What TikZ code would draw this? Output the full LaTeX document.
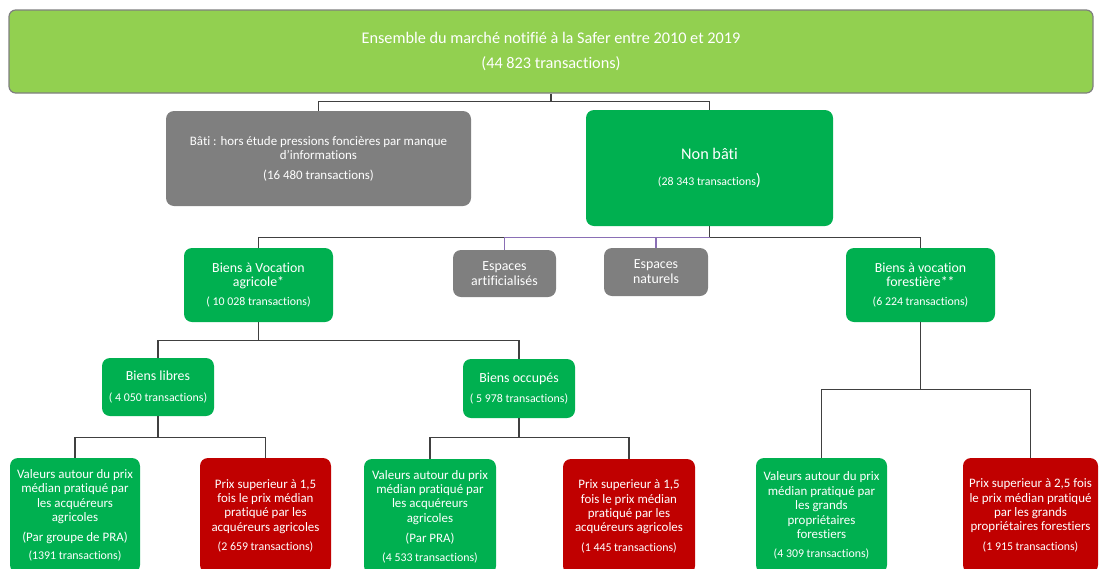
\documentclass[tikz,border=0pt]{standalone}
\usepackage{fontspec}
\setmainfont{Carlito}[Ligatures={NoCommon}]
\usetikzlibrary{calc}
\definecolor{lgreen}{HTML}{92D050}
\definecolor{dgreen}{HTML}{00B050}
\definecolor{bgrey}{HTML}{7F7F7F}
\definecolor{bred}{HTML}{C00000}
\definecolor{conncol}{HTML}{404040}
\definecolor{purp}{HTML}{8A6FB5}
\newcommand\trs{\fontsize{8.9}{10.8}\selectfont}
\newcommand\mains{\fontsize{9.7}{10.8}\selectfont}
\newcommand\heads{\fontsize{10.4}{11.2}\selectfont}
\tikzset{
  sz/.style 2 args={minimum width={#1*0.75pt}, minimum height={#2*0.75pt}},
  box/.style={rounded corners=6pt, text=white, align=center, inner sep=0pt, font=\mains},
  topbox/.style={box, fill=lgreen, draw=bgrey, line width=0.9pt, rounded corners=5pt, font=\fontsize{12.2}{14.6}\selectfont},
  gbox/.style={box, fill=dgreen},
  greybox/.style={box, fill=bgrey},
  rbox/.style={box, fill=bred},
  conn/.style={draw=conncol, line width=1.1pt},
  pconn/.style={draw=purp, line width=1.1pt}
}
\begin{document}
\begin{tikzpicture}[x=0.75pt,y=-0.75pt]
\useasboundingbox (0,0) rectangle (1100,568);
\clip (0,0) rectangle (1100,568);

\node[topbox, sz={1084}{83}] (top) at (551,51.5)
  {Ensemble du marché notifié à la Safer entre 2010 et 2019\\[4.1pt](44 823 transactions)};

\node[greybox, sz={305}{95}] (bati) at (318.5,158.5)
  {Bâti : hors étude pressions foncières par manque\\d’informations\\[4pt](16 480 transactions)};

\node[gbox, sz={247}{116}] (nonbati) at (709.5,168)
  {{\fontsize{12.2}{14}\selectfont Non bâti}\\[8pt]{\trs(28 343 transactions\fontsize{12.5}{14}\selectfont)}};

\node[gbox, sz={149}{74}, font=\heads] (agri) at (258.5,285)
  {Biens à Vocation\\agricole*\\[3pt]{\trs( 10 028 transactions)}};
\node[greybox, sz={103}{47}, font=\heads] (artif) at (504.5,273.5)
  {Espaces\\artificialisés};
\node[greybox, sz={104}{48}, font=\heads] (natur) at (656,272)
  {Espaces\\naturels};
\node[gbox, sz={149}{74}, font=\heads] (forest) at (920.5,285)
  {Biens à vocation\\forestière**\\[3pt]{\trs(6 224 transactions)}};

\node[gbox, sz={112}{58}, font=\heads] (libres) at (158,387)
  {Biens libres\\[4pt]{\trs( 4 050 transactions)}};
\node[gbox, sz={112}{59}, font=\heads] (occ) at (519,388.5)
  {Biens occupés\\[4pt]{\trs( 5 978 transactions)}};

\node[gbox, sz={130}{115}] (b1) at (75,515.5)
  {Valeurs autour du prix\\médian pratiqué par\\les acquéreurs\\agricoles\\[4.2pt](Par groupe de PRA)\\[2.7pt]{\trs(1391 transactions)}};
\node[rbox, sz={131}{115}] (b2) at (265.5,515.5)
  {Prix superieur à 1,5\\fois le prix médian\\pratiqué par les\\acquéreurs agricoles\\[3.5pt]{\trs(2 659 transactions)}};
\node[gbox, sz={132}{115}] (b3) at (430,516.5)
  {Valeurs autour du prix\\médian pratiqué par\\les acquéreurs\\agricoles\\[4.2pt](Par PRA)\\[3.5pt]{\trs(4 533 transactions)}};
\node[rbox, sz={132}{115}] (b4) at (629,516.5)
  {Prix superieur à 1,5\\fois le prix médian\\pratiqué par les\\acquéreurs agricoles\\[4pt]{\trs(1 445 transactions)}};
\node[gbox, sz={131}{115}] (b5) at (821.5,515.5)
  {Valeurs autour du prix\\médian pratiqué par\\les grands\\propriétaires\\forestiers\\[3.5pt]{\trs(4 309 transactions)}};
\node[rbox, sz={135}{115}] (b6) at (1030.5,515.5)
  {Prix superieur à 2,5 fois\\le prix médian pratiqué\\par les grands\\propriétaires forestiers\\[4pt]{\trs(1 915 transactions)}};

% connectors
\coordinate (j1) at ($(top.south)+(0,8)$);
\draw[conn] (top.south) -- (j1) -| (bati.north);
\draw[conn] (j1) -| (nonbati.north);

\coordinate (j2) at ($(nonbati.south)+(0,11)$);
\draw[conn] (nonbati.south) -- (j2) -| (agri.north);
\draw[conn] (j2) -| (forest.north);
\draw[pconn] (artif.north) |- (j2);
\draw[pconn] (natur.north) |- (j2);

\coordinate (j3) at ($(agri.south)+(0,18)$);
\draw[conn] (agri.south) -- (j3) -| (libres.north);
\draw[conn] (j3) -| (occ.north);

\coordinate (j4) at ($(forest.south)+(0,67)$);
\draw[conn] (forest.south) -- (j4) -| (b5.north);
\draw[conn] (j4) -| (b6.north);

\coordinate (j5) at ($(libres.south)+(0,21)$);
\draw[conn] (libres.south) -- (j5) -| (b1.north);
\draw[conn] (j5) -| (b2.north);

\coordinate (j6) at ($(occ.south)+(0,19)$);
\draw[conn] (occ.south) -- (j6) -| (b3.north);
\draw[conn] (j6) -| (b4.north);
\end{tikzpicture}
\end{document}
